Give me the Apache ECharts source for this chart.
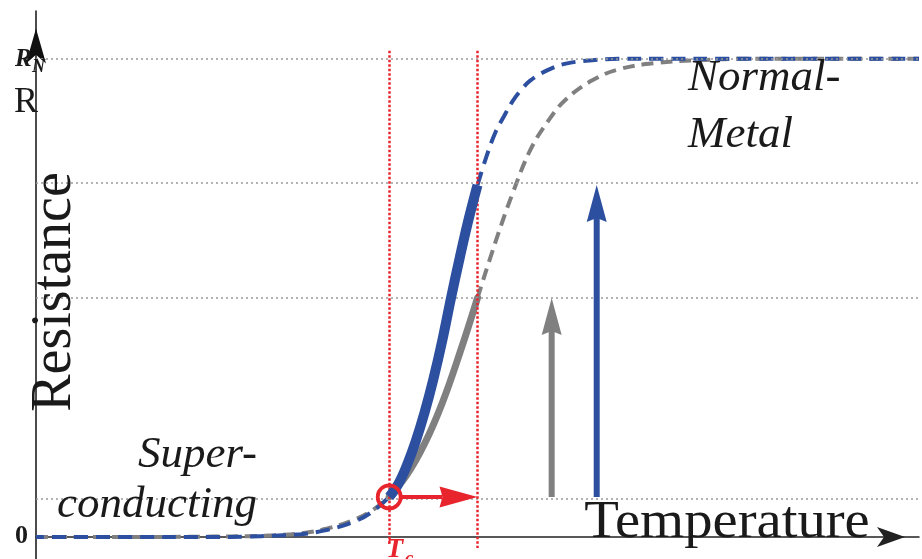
<!DOCTYPE html>
<html>
<head>
<meta charset="utf-8">
<script src="https://cdn.jsdelivr.net/npm/echarts@6/dist/echarts.min.js"></script>
<style>
  html, body { margin: 0; padding: 0; background: #ffffff; }
  #chart { width: 922px; height: 559px; }
</style>
</head>
<body>
<div id="chart"></div>
<script>
// Resistance vs. temperature across the superconducting transition (R in units of R_N)
const grayTemperature = [0, 10, 20, 24, 27, 30, 33, 36, 38, 40, 42, 44, 46, 48, 50, 52, 54, 56, 58, 60, 63, 66, 70, 75, 80, 90, 100];
const grayResistance  = [0, 0, 0.001, 0.002, 0.004, 0.008, 0.018, 0.036, 0.055, 0.084, 0.13, 0.195, 0.28, 0.385, 0.5, 0.615, 0.72, 0.81, 0.87, 0.915, 0.955, 0.978, 0.991, 0.997, 1, 1, 1];

const blueTemperature = [0, 10, 20, 24, 27, 30, 33, 36, 38, 40, 41, 42, 43, 44, 45, 46, 47, 48, 49, 50, 51, 52, 53, 54, 55, 56, 58, 60, 63, 66, 70, 80, 90, 100];
const blueResistance  = [0, 0, 0, 0.001, 0.003, 0.006, 0.015, 0.032, 0.052, 0.084, 0.11, 0.15, 0.2, 0.26, 0.33, 0.41, 0.5, 0.585, 0.665, 0.736, 0.795, 0.845, 0.88, 0.912, 0.936, 0.955, 0.977, 0.99, 0.997, 1, 1, 1, 1, 1];

// transition window: critical temperature and upper edge
const criticalTemperature = 40;
const windowEdge = 50;
const onsetResistance = 0.084;

// reference levels (dotted horizontal lines)
const levelValues = [0.084, 0.5, 0.736, 1];

// vertical arrows: position, base, top
const arrowTemperature = [58.4, 63.5];
const arrowBase = [0.084, 0.084];
const arrowTop = [0.5, 0.736];

// text
const axisTitles = ['Resistance', 'Temperature'];
const tickTexts = ['0', 'R', 'N', 'R'];
const regionTexts = ['Super-', 'conducting', 'Normal-', 'Metal'];
const tcTexts = ['T', 'c'];

const BLUE = '#2d4f9f';
const GRAY = '#808080';
const RED = '#e8242c';
const INK = '#1a1a1a';
const SERIF = '"Liberation Serif", "DejaVu Serif", serif';

function segment(ts, rs, lo, hi) {
  const out = [];
  for (let i = 0; i < ts.length; i++) {
    if (ts[i] >= lo && ts[i] <= hi) out.push([ts[i], rs[i]]);
  }
  return out;
}

function arrowShape(a, b, headLen, headHalf, notch, shaftWidth, color, startInset) {
  const dx = b[0] - a[0], dy = b[1] - a[1];
  const len = Math.hypot(dx, dy);
  const ux = dx / len, uy = dy / len;
  const nx = -uy, ny = ux;
  const s = [a[0] + ux * startInset, a[1] + uy * startInset];
  const baseX = b[0] - ux * headLen, baseY = b[1] - uy * headLen;
  const notchX = b[0] - ux * (headLen - notch), notchY = b[1] - uy * (headLen - notch);
  return {
    type: 'group',
    children: [
      {
        type: 'line',
        shape: { x1: s[0], y1: s[1], x2: notchX, y2: notchY },
        style: { stroke: color, lineWidth: shaftWidth }
      },
      {
        type: 'polygon',
        shape: {
          points: [
            [b[0], b[1]],
            [baseX + nx * headHalf, baseY + ny * headHalf],
            [notchX, notchY],
            [baseX - nx * headHalf, baseY - ny * headHalf]
          ]
        },
        style: { fill: color }
      }
    ]
  };
}

const chart = echarts.init(document.getElementById('chart'), null, { renderer: 'canvas' });

const option = {
  animation: false,
  backgroundColor: '#ffffff',
  grid: { left: 36, right: 3, top: 11, bottom: -2, containLabel: false, outerBoundsMode: 'none' },
  xAxis: {
    type: 'value', min: 0, max: 100,
    axisLine: {
      show: true, onZero: true,
      symbol: ['none', 'arrow'], symbolSize: [15, 28], symbolOffset: [0, -14],
      lineStyle: { color: '#222', width: 1.5 }
    },
    axisTick: { show: false }, axisLabel: { show: false }, splitLine: { show: false }
  },
  yAxis: {
    type: 'value', min: -0.05, max: 1.1,
    axisLine: {
      show: true, onZero: false,
      symbol: ['none', 'arrow'], symbolSize: [15, 35], symbolOffset: [0, -17.5],
      lineStyle: { color: '#111', width: 1.5 }
    },
    axisTick: { show: false }, axisLabel: { show: false }, splitLine: { show: false }
  },
  series: [
    // dotted reference levels
    {
      type: 'line', data: [], z: 1, silent: true,
      markLine: {
        silent: true, symbol: 'none', label: { show: false },
        lineStyle: { color: '#9a9a9a', width: 1.6, type: [2, 3] },
        data: levelValues.map(v => ({ yAxis: v }))
      }
    },
    // gray curve, dashed outside the transition window
    {
      type: 'line', z: 2, smooth: 0.4, showSymbol: false, silent: true,
      data: segment(grayTemperature, grayResistance, 0, criticalTemperature),
      lineStyle: { color: GRAY, width: 4, type: [12, 7] }
    },
    {
      type: 'line', z: 2, smooth: 0.4, showSymbol: false, silent: true,
      data: segment(grayTemperature, grayResistance, windowEdge, 100),
      lineStyle: { color: GRAY, width: 4, type: [12, 7] }
    },
    // blue curve, dashed outside the transition window
    {
      type: 'line', z: 3, smooth: 0.4, showSymbol: false, silent: true,
      data: segment(blueTemperature, blueResistance, 0, criticalTemperature),
      lineStyle: { color: BLUE, width: 4, type: [14, 8], dashOffset: 6 }
    },
    {
      type: 'line', z: 3, smooth: 0.4, showSymbol: false, silent: true,
      data: segment(blueTemperature, blueResistance, windowEdge, 100),
      lineStyle: { color: BLUE, width: 4, type: [14, 8] }
    },
    // solid parts inside the window
    {
      type: 'line', z: 4, smooth: 0.4, showSymbol: false, silent: true,
      data: segment(grayTemperature, grayResistance, criticalTemperature, windowEdge),
      lineStyle: { color: GRAY, width: 7, cap: 'round' }
    },
    {
      type: 'line', z: 5, smooth: 0.4, showSymbol: false, silent: true,
      data: segment(blueTemperature, blueResistance, criticalTemperature, windowEdge),
      lineStyle: { color: BLUE, width: 10, cap: 'butt' }
    },
    // red dotted verticals at Tc and the window edge
    {
      type: 'line', data: [], z: 6, silent: true,
      markLine: {
        silent: true, symbol: 'none', label: { show: false },
        lineStyle: { color: RED, width: 2.5, type: [2.5, 2] },
        data: [
          [{ coord: [criticalTemperature, 1.017] }, { coord: [criticalTemperature, -0.015] }],
          [{ coord: [windowEdge, 1.017] }, { coord: [windowEdge, -0.023] }]
        ]
      }
    },
    // vertical arrows
    {
      type: 'custom', z: 7, silent: true,
      data: arrowTemperature.map((t, i) => ({
        value: [t, arrowBase[i], arrowTop[i]],
        itemStyle: { color: i === 0 ? GRAY : BLUE }
      })),
      renderItem: function (params, api) {
        const a = api.coord([api.value(0), api.value(1)]);
        const b = api.coord([api.value(0), api.value(2)]);
        return arrowShape(a, b, 37, 10, 4, 6, api.visual('color'), 0);
      }
    },
    // red arrow from Tc across the window
    {
      type: 'custom', z: 8, silent: true,
      data: [[criticalTemperature, onsetResistance, windowEdge, onsetResistance]],
      renderItem: function (params, api) {
        const a = api.coord([api.value(0), api.value(1)]);
        const b = api.coord([api.value(2), api.value(3)]);
        return arrowShape(a, b, 38, 10.5, 3, 4, RED, 11);
      }
    },
    // Tc marker ring
    {
      type: 'custom', z: 9, silent: true,
      data: [[criticalTemperature, onsetResistance]],
      renderItem: function (params, api) {
        const c = api.coord([api.value(0), api.value(1)]);
        return {
          type: 'circle',
          shape: { cx: c[0], cy: c[1], r: 11.5 },
          style: { fill: 'none', stroke: RED, lineWidth: 3.8 }
        };
      }
    }
  ],
  graphic: [
    { type: 'text', x: 55, y: 292, rotation: Math.PI / 2, z: 10,
      style: { text: axisTitles[0], font: '56px ' + SERIF, fill: INK, align: 'center', verticalAlign: 'middle' } },
    { type: 'text', x: 727, y: 523, scaleX: 1.09, z: 10,
      style: { text: axisTitles[1], font: '52px ' + SERIF, fill: INK, align: 'center', verticalAlign: 'middle' } },
    { type: 'text', x: 15, y: 536, z: 10,
      style: { text: tickTexts[0], font: 'bold 26px ' + SERIF, fill: INK, align: 'left', verticalAlign: 'middle' } },
    { type: 'text', x: 15, y: 60, z: 10,
      style: { text: tickTexts[1], font: 'italic bold 25px ' + SERIF, fill: INK, align: 'left', verticalAlign: 'middle' } },
    { type: 'text', x: 32, y: 67, z: 10,
      style: { text: tickTexts[2], font: 'italic bold 18px ' + SERIF, fill: INK, align: 'left', verticalAlign: 'middle' } },
    { type: 'text', x: 14, y: 103, z: 10,
      style: { text: tickTexts[3], font: '36px ' + SERIF, fill: INK, align: 'left', verticalAlign: 'middle' } },
    { type: 'text', x: 257, y: 455, z: 10,
      style: { text: regionTexts[0], font: 'italic 45px ' + SERIF, fill: INK, align: 'right', verticalAlign: 'middle' } },
    { type: 'text', x: 257, y: 505, z: 10,
      style: { text: regionTexts[1], font: 'italic 45px ' + SERIF, fill: INK, align: 'right', verticalAlign: 'middle' } },
    { type: 'text', x: 688, y: 78, z: 10,
      style: { text: regionTexts[2], font: 'italic 45px ' + SERIF, fill: INK, align: 'left', verticalAlign: 'middle' } },
    { type: 'text', x: 688, y: 135, z: 10,
      style: { text: regionTexts[3], font: 'italic 45px ' + SERIF, fill: INK, align: 'left', verticalAlign: 'middle' } },
    { type: 'text', x: 386, y: 550, z: 10,
      style: { text: tcTexts[0], font: 'italic bold 28px ' + SERIF, fill: RED, align: 'left', verticalAlign: 'middle' } },
    { type: 'text', x: 405, y: 559, z: 10,
      style: { text: tcTexts[1], font: 'italic bold 19px ' + SERIF, fill: RED, align: 'left', verticalAlign: 'middle' } }
  ]
};

chart.setOption(option);
</script>
</body>
</html>
